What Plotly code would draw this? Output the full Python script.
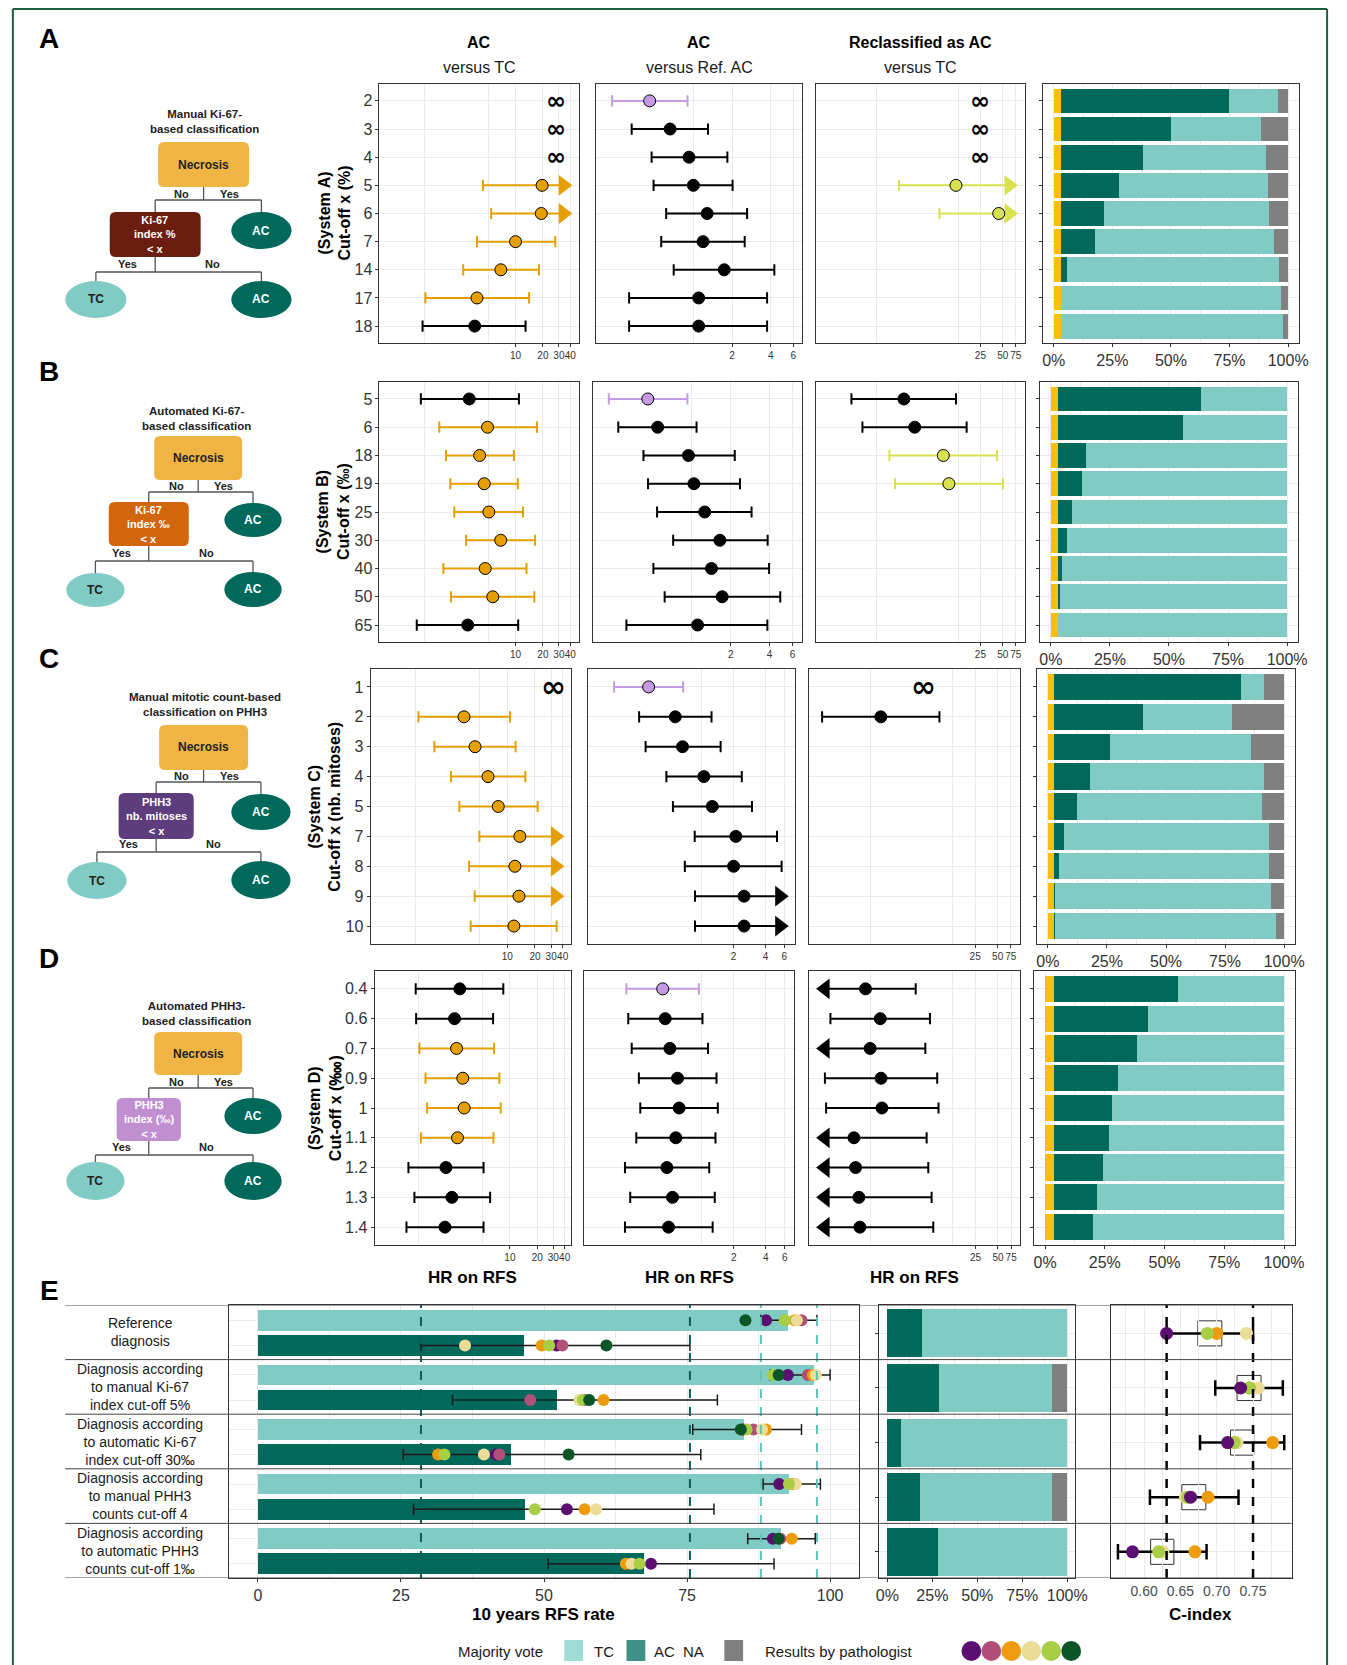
import math
import plotly.graph_objects as go

W, H = 1347, 1665
INF = float("inf")
NA = None

# ====================== DATA ======================
# Panel A - System A, manual Ki-67 (%)
cutoffs_A = ["2", "3", "4", "5", "6", "7", "14", "17", "18"]
hr_A_vs_tc = [INF, INF, INF, 19.6, 19.2, 10.0, 6.9, 3.77, 3.56]
lo_A_vs_tc = [NA, NA, NA, 4.38, 5.4, 3.77, 2.66, 1.02, 0.95]
hi_A_vs_tc = [NA, NA, NA, INF, INF, 27.4, 18.1, 14.1, 12.9]
hr_A_vs_ref = [0.457, 0.659, 0.925, 1.0, 1.28, 1.19, 1.74, 1.10, 1.10]
lo_A_vs_ref = [0.233, 0.331, 0.473, 0.49, 0.614, 0.562, 0.703, 0.316, 0.316]
hi_A_vs_ref = [0.90, 1.30, 1.84, 2.02, 2.62, 2.51, 4.27, 3.75, 3.75]
hr_A_recl = [INF, INF, INF, 11.7, 44.2, NA, NA, NA, NA]
lo_A_recl = [NA, NA, NA, 1.99, 7.0, NA, NA, NA, NA]
hi_A_recl = [NA, NA, NA, INF, INF, NA, NA, NA, NA]
nec_A = [3.0, 3.0, 3.0, 3.0, 3.0, 3.0, 3.0, 3.0, 3.0]
ac_A = [71.8, 47.0, 35.0, 24.9, 18.5, 14.5, 2.8, 0.0, 0.0]
tc_A = [21.0, 38.5, 52.6, 63.4, 70.2, 76.6, 90.3, 93.9, 94.7]
na_A = [4.2, 11.5, 9.4, 8.7, 8.3, 5.9, 3.9, 3.1, 2.3]

# Panel B - System B, automated Ki-67 (permille)
cutoffs_B = ["5", "6", "18", "19", "25", "30", "40", "50", "65"]
hr_B_vs_tc = [3.10, 4.92, 4.03, 4.53, 5.09, 6.87, 4.64, 5.62, 2.98]
lo_B_vs_tc = [0.91, 1.45, 1.72, 1.92, 2.12, 2.86, 1.61, 1.95, 0.82]
hi_B_vs_tc = [10.9, 17.2, 9.6, 10.6, 12.1, 16.4, 13.2, 16.1, 10.7]
hr_B_vs_ref = [0.458, 0.546, 0.944, 1.04, 1.26, 1.65, 1.42, 1.72, 1.11]
lo_B_vs_ref = [0.229, 0.271, 0.424, 0.46, 0.54, 0.719, 0.506, 0.618, 0.313]
hi_B_vs_ref = [0.927, 1.09, 2.15, 2.36, 2.90, 3.86, 3.96, 4.83, 3.84]
hr_B_recl = [2.32, 3.25, 7.9, 9.4, NA, NA, NA, NA, NA]
lo_B_recl = [0.455, 0.64, 1.48, 1.76, NA, NA, NA, NA, NA]
hi_B_recl = [11.7, 16.3, 41.9, 50.5, NA, NA, NA, NA, NA]
nec_B = [3.1, 3.1, 3.1, 3.1, 3.1, 3.1, 3.1, 3.1, 3.1]
ac_B = [60.5, 52.9, 11.9, 10.0, 6.0, 3.6, 1.6, 0.8, 0.0]
tc_B = [36.4, 44.0, 85.0, 86.9, 90.9, 93.3, 95.3, 96.1, 96.9]
na_B = [0, 0, 0, 0, 0, 0, 0, 0, 0]

# Panel C - System C, manual PHH3 mitoses
cutoffs_C = ["1", "2", "3", "4", "5", "7", "8", "9", "10"]
hr_C_vs_tc = [INF, 3.38, 4.46, 6.17, 7.98, 13.7, 12.1, 13.4, 11.8]
lo_C_vs_tc = [NA, 1.08, 1.61, 2.44, 3.01, 4.97, 3.84, 4.42, 4.0]
hi_C_vs_tc = [NA, 10.7, 12.3, 15.7, 21.4, INF, INF, INF, 34.4]
hr_C_vs_ref = [0.317, 0.565, 0.661, 1.05, 1.26, 2.10, 2.0, 2.51, 2.51]
lo_C_vs_ref = [0.150, 0.258, 0.297, 0.466, 0.537, 0.861, 0.695, 0.867, 0.867]
hi_C_vs_ref = [0.67, 1.24, 1.51, 2.39, 2.98, 5.13, 5.67, INF, INF]
hr_C_recl = [INF, 1.36, NA, NA, NA, NA, NA, NA, NA]
lo_C_recl = [NA, 0.222, NA, NA, NA, NA, NA, NA, NA]
hi_C_recl = [NA, 8.3, NA, NA, NA, NA, NA, NA, NA]
nec_C = [2.7, 2.7, 2.7, 2.7, 2.7, 2.7, 2.7, 2.7, 2.7]
ac_C = [79.0, 37.4, 23.6, 15.0, 9.6, 3.9, 1.8, 0.2, 0.2]
tc_C = [9.6, 38.0, 59.5, 73.8, 78.3, 87.0, 89.1, 91.5, 93.5]
na_C = [8.7, 21.9, 14.2, 8.5, 9.4, 6.4, 6.4, 5.6, 3.6]

# Panel D - System D, automated PHH3 (per ten thousand); lower CI 0 = unbounded
cutoffs_D = ["0.4", "0.6", "0.7", "0.9", "1", "1.1", "1.2", "1.3", "1.4"]
hr_D_vs_tc = [2.81, 2.46, 2.59, 3.03, 3.14, 2.65, 1.98, 2.30, 1.93]
lo_D_vs_tc = [0.92, 0.93, 1.01, 1.18, 1.23, 1.05, 0.765, 0.89, 0.728]
hi_D_vs_tc = [8.46, 6.53, 6.7, 7.66, 7.92, 6.59, 5.13, 6.06, 5.13]
hr_D_vs_ref = [0.433, 0.457, 0.506, 0.596, 0.617, 0.574, 0.474, 0.535, 0.491]
lo_D_vs_ref = [0.198, 0.206, 0.222, 0.259, 0.267, 0.245, 0.192, 0.215, 0.192]
hi_D_vs_ref = [0.944, 1.02, 1.15, 1.38, 1.42, 1.35, 1.18, 1.33, 1.27]
hr_D_recl = [0.85, 1.34, 0.98, 1.37, 1.41, 0.596, 0.627, 0.693, 0.715]
lo_D_recl = [0.0, 0.289, 0.0, 0.244, 0.253, 0.0, 0.0, 0.0, 0.0]
hi_D_recl = [3.98, 6.17, 5.35, 7.71, 8.03, 5.57, 5.86, 6.49, 6.83]
nec_D = [3.6, 3.6, 3.6, 3.6, 3.6, 3.6, 3.6, 3.6, 3.6]
ac_D = [51.9, 39.6, 35.0, 26.8, 24.3, 23.2, 20.7, 18.1, 16.5]
tc_D = [44.5, 56.8, 61.4, 69.6, 72.1, 73.2, 75.7, 78.3, 79.9]
na_D = [0, 0, 0, 0, 0, 0, 0, 0, 0]

# Panel E
diagnoses_E = [
    "Reference<br>diagnosis",
    "Diagnosis according<br>to manual Ki-67<br>index cut-off 5%",
    "Diagnosis according<br>to automatic Ki-67<br>index cut-off 30‰",
    "Diagnosis according<br>to manual PHH3<br>counts cut-off 4",
    "Diagnosis according<br>to automatic PHH3<br>counts cut-off 1‰",
]
rfs_tc = [92.7, 97.1, 85.0, 92.9, 91.4]
rfs_tc_lo = [87.9, 89.5, 76.0, 88.3, 85.6]
rfs_tc_hi = [97.7, 100.0, 95.0, 98.3, 97.4]
rfs_ac = [46.5, 52.3, 44.3, 46.6, 67.5]
rfs_ac_lo = [28.5, 34.0, 25.4, 27.2, 50.7]
rfs_ac_hi = [75.5, 80.3, 77.4, 79.7, 90.2]
pathologists = ["purple", "pink", "orange", "beige", "ltgreen", "dkgreen"]
rfs_tc_by_path = {
    "purple": [88.8, 92.6, 84.8, 91.1, 90.0],
    "pink": [95.0, 96.1, 86.6, NA, 91.3],
    "orange": [93.8, 97.0, 88.8, 93.5, 93.3],
    "beige": [94.2, 97.5, 88.1, 94.0, NA],
    "ltgreen": [92.1, 90.0, 85.4, 92.8, NA],
    "dkgreen": [85.2, 91.0, 84.4, NA, 91.0],
}
rfs_ac_by_path = {
    "purple": [52.2, 57.1, 41.6, 54.0, 68.7],
    "pink": [53.2, 47.6, 42.2, NA, NA],
    "orange": [49.6, 60.4, 31.5, 57.1, 64.3],
    "beige": [36.2, 56.2, 39.5, 59.1, 65.3],
    "ltgreen": [50.9, 56.8, 32.6, 48.4, 66.7],
    "dkgreen": [60.9, 57.9, 54.3, NA, NA],
}
mv_ac_E = [19.3, 28.6, 7.5, 18.2, 28.4]
mv_tc_E = [80.7, 62.8, 92.5, 73.4, 71.6]
mv_na_E = [0.0, 8.6, 0.0, 8.4, 0.0]
cidx_lo = [0.631, 0.698, 0.677, 0.608, 0.564]
cidx_hi = [0.750, 0.791, 0.793, 0.730, 0.686]
cidx_q1 = [0.674, 0.728, 0.719, 0.652, 0.609]
cidx_q3 = [0.707, 0.761, 0.751, 0.685, 0.641]
cidx_by_path = {
    "beige": [0.741, 0.757, 0.728, 0.657, 0.626],
    "orange": [0.700, 0.745, 0.777, 0.688, 0.670],
    "ltgreen": [0.687, 0.745, 0.724, 0.660, 0.620],
    "purple": [0.631, 0.733, 0.715, 0.664, 0.584],
}

# ====================== STYLE ======================
FONT = "Liberation Sans, Arial, Helvetica, sans-serif"
ORANGE = "#E69F00"
PURPLE = "#C49BE2"
YGREEN = "#D8E24E"
NEC_COL = "#FBBF0B"
AC_COL = "#00695C"
TC_COL = "#80CBC4"
NA_COL = "#808080"
GRID = "#EBEBEB"
BORDER = "#333333"
TXT = "#333333"
PATH_COLS = {"purple": "#5B0F70", "pink": "#B24F78", "orange": "#EC9C0C",
             "beige": "#EBDC98", "ltgreen": "#A8CE46", "dkgreen": "#0B5526"}

fig = go.Figure()
axes_layout = {}
shapes = []
annots = []
_ax = [0]


def X(px):
    return px / W


def Y(py):
    return 1 - py / H


def new_axes(xd, yd, xcfg, ycfg):
    _ax[0] += 1
    s = "" if _ax[0] == 1 else str(_ax[0])
    xcfg = dict(xcfg)
    ycfg = dict(ycfg)
    xcfg.update(domain=[X(xd[0]), X(xd[1])], anchor="y" + s)
    ycfg.update(domain=[Y(yd[1]), Y(yd[0])], anchor="x" + s)
    axes_layout["xaxis" + s] = xcfg
    axes_layout["yaxis" + s] = ycfg
    return "x" + s, "y" + s


def base_axis(**kw):
    d = dict(showline=True, mirror=True, linecolor=BORDER, linewidth=1, zeroline=False,
             showgrid=True, gridcolor=GRID, gridwidth=1, ticks="", showticklabels=False,
             fixedrange=True, tickangle=0)
    d.update(kw)
    return d


def text(x, y, s, size=14, bold=False, color="#1a1a1a", xanchor="center", yanchor="middle",
         angle=0, family=FONT, xref="paper", yref="paper"):
    if bold:
        s = "<b>" + s + "</b>"
    if xref == "paper":
        x = X(x)
    if yref == "paper":
        y = Y(y)
    annots.append(dict(x=x, y=y, xref=xref, yref=yref, text=s, showarrow=False,
                       font=dict(size=size, color=color, family=family),
                       xanchor=xanchor, yanchor=yanchor, textangle=angle))


FOREST_TICKS = [([10, 20, 30, 40], [1, 5]), ([2, 4, 6], [1]), ([25, 50, 75], [1, 12.5])]
HIGH_COLS = [ORANGE, ORANGE, YGREEN]


def forest_x(rng, col):
    major, minor = FOREST_TICKS[col]
    return base_axis(type="log", range=list(rng), tickmode="array", tickvals=major,
                     ticktext=[str(v) for v in major], showticklabels=True, ticks="outside",
                     ticklen=3, tickcolor=BORDER, tickfont=dict(size=10, color=TXT),
                     minor=dict(tickmode="array", tickvals=minor, showgrid=True,
                                gridcolor=GRID, ticks=""))


def rows_y(n, labels=None, ticks=False):
    d = base_axis(range=[n - 1 + 0.6, -0.6], tickmode="array", tickvals=list(range(n)))
    if labels:
        d.update(ticktext=labels, showticklabels=True, ticks="outside", ticklen=3,
                 tickcolor=BORDER, tickfont=dict(size=16, color=TXT))
    elif ticks:
        d.update(ticks="outside", ticklen=3, tickcolor=BORDER)
    return d


def draw_forest(xr, yr, hr, lo, hi, rng, width_px, high_col, inf_at, row_px):
    off = 16 * (rng[1] - rng[0]) / width_px
    groups = {}
    inf_rows = []
    for i, h in enumerate(hr):
        if h is None:
            continue
        if h == INF:
            inf_rows.append(i)
            continue
        l, u = lo[i], hi[i]
        if l > 1:
            col = high_col
        elif u < 1:
            col = PURPLE
        else:
            col = "black"
        g = groups.setdefault(col, dict(lx=[], ly=[], cx=[], cy=[], rx=[], ry=[], qx=[], qy=[], px=[], py=[]))
        if l <= 0 or math.log10(l) < rng[0]:
            L = 10 ** (rng[0] + off)
            g["qx"].append(L); g["qy"].append(i)
        else:
            L = l
            g["cx"].append(l); g["cy"].append(i)
        if u == INF or math.log10(u) > rng[1]:
            R = 10 ** (rng[1] - off)
            g["rx"].append(R); g["ry"].append(i)
        else:
            R = u
            g["cx"].append(u); g["cy"].append(i)
        g["lx"] += [L, R, None]
        g["ly"] += [i, i, None]
        g["px"].append(h); g["py"].append(i)
    # infinite hazard ratios are written as an infinity sign
    stacked = any((i + 1) in inf_rows for i in inf_rows)
    inf_size = min(30, row_px / 1.17) if stacked else 30
    for i in inf_rows:
        text(math.log10(inf_at), i, "∞", size=inf_size, bold=True, family="DejaVu Sans",
             color="black", xref=xr, yref=yr)
    common = dict(xaxis=xr, yaxis=yr, hoverinfo="skip", showlegend=False)
    for col, g in groups.items():
        fig.add_trace(go.Scatter(x=g["lx"], y=g["ly"], mode="lines",
                                 line=dict(color=col, width=2), **common))
        fig.add_trace(go.Scatter(x=g["cx"], y=g["cy"], mode="markers",
                                 marker=dict(symbol="line-ns", size=8,
                                             line=dict(color=col, width=2)), **common))
        if g["rx"]:
            fig.add_trace(go.Scatter(x=g["rx"], y=g["ry"], mode="markers",
                                     marker=dict(symbol="triangle-right", size=18, color=col,
                                                 line=dict(width=0)), **common))
        if g["qx"]:
            fig.add_trace(go.Scatter(x=g["qx"], y=g["qy"], mode="markers",
                                     marker=dict(symbol="triangle-left", size=18, color=col,
                                                 line=dict(width=0)), **common))
    for col, g in groups.items():
        fig.add_trace(go.Scatter(x=g["px"], y=g["py"], mode="markers",
                                 marker=dict(symbol="circle", size=12, color=col,
                                             line=dict(color="black", width=1)), **common))


def draw_stack(xr, yr, segs, ys, width):
    for vals, col in segs:
        fig.add_trace(go.Bar(x=vals, y=ys, orientation="h", width=width,
                             marker=dict(color=col, line=dict(width=0)),
                             xaxis=xr, yaxis=yr, hoverinfo="skip", showlegend=False))


# ====================== PANELS A-D ======================
panels = [
    dict(letter="A", letter_y=39, cut=cutoffs_A, ytitle="(System A)<br>Cut-off x (%)", ytx=335,
         yd=(84, 343), cols=[(380, 582), (599, 808), (822, 1033), (1051, 1311)],
         rng=[(-0.496, 1.699), (-0.759, 0.849), (-0.817, 1.996)],
         forest=[(hr_A_vs_tc, lo_A_vs_tc, hi_A_vs_tc), (hr_A_vs_ref, lo_A_vs_ref, hi_A_vs_ref),
                 (hr_A_recl, lo_A_recl, hi_A_recl)],
         inf_at=[28, None, 25], stack=(nec_A, ac_A, tc_A, na_A)),
    dict(letter="B", letter_y=371, cut=cutoffs_B, ytitle="(System B)<br>Cut-off x (‰)", ytx=333,
         yd=(382, 642), cols=[(380, 582), (596, 808), (822, 1033), (1048, 1310)],
         rng=[(-0.496, 1.699), (-0.763, 0.855), (-0.817, 1.996)],
         forest=[(hr_B_vs_tc, lo_B_vs_tc, hi_B_vs_tc), (hr_B_vs_ref, lo_B_vs_ref, hi_B_vs_ref),
                 (hr_B_recl, lo_B_recl, hi_B_recl)],
         inf_at=[None, None, None], stack=(nec_B, ac_B, tc_B, na_B)),
    dict(letter="C", letter_y=658, cut=cutoffs_C, ytitle="(System C)<br>Cut-off x (nb. mitoses)", ytx=324,
         yd=(669, 944), cols=[(371, 574), (591, 801), (815, 1028), (1045, 1307)],
         rng=[(-0.487, 1.695), (-1.07, 0.884), (-0.825, 1.996)],
         forest=[(hr_C_vs_tc, lo_C_vs_tc, hi_C_vs_tc), (hr_C_vs_ref, lo_C_vs_ref, hi_C_vs_ref),
                 (hr_C_recl, lo_C_recl, hi_C_recl)],
         inf_at=[32, None, 5.0], stack=(nec_C, ac_C, tc_C, na_C)),
    dict(letter="D", letter_y=958, cut=cutoffs_D, ytitle="(System D)<br>Cut-off x (‱)", ytx=325,
         yd=(971, 1245), cols=[(375, 574), (587, 800), (815, 1028), (1042, 1307)],
         rng=[(-0.489, 1.674), (-1.10, 0.870), (-0.821, 1.99)],
         forest=[(hr_D_vs_tc, lo_D_vs_tc, hi_D_vs_tc), (hr_D_vs_ref, lo_D_vs_ref, hi_D_vs_ref),
                 (hr_D_recl, lo_D_recl, hi_D_recl)],
         inf_at=[None, None, None], stack=(nec_D, ac_D, tc_D, na_D)),
]

HR_REF = 1.0
for k, p in enumerate(panels):
    n = len(p["cut"])
    row_px = (p["yd"][1] - p["yd"][0]) / (n - 1 + 1.2)
    text(46, p["letter_y"], p["letter"], size=28, bold=True, color="black")
    yc = (p["yd"][0] + p["yd"][1]) / 2
    text(p["ytx"], yc, p["ytitle"], size=16, bold=True, angle=-90, color="black")
    for c in range(3):
        xr, yr = new_axes(p["cols"][c], p["yd"], forest_x(p["rng"][c], c),
                          rows_y(n, p["cut"] if c == 0 else None))
        hr, lo, hi = p["forest"][c]
        draw_forest(xr, yr, hr, lo, hi, p["rng"][c], p["cols"][c][1] - p["cols"][c][0],
                    HIGH_COLS[c], p["inf_at"][c], row_px)
        shapes.append(dict(type="line", xref=xr, yref=yr + " domain", x0=math.log10(HR_REF),
                           x1=math.log10(HR_REF), y0=0, y1=1,
                           line=dict(color="#FF0000", width=2, dash="dash"), layer="above"))
    sx = base_axis(range=[-4.8, 104.8], tickmode="array", tickvals=[0, 25, 50, 75, 100],
                   ticktext=["0%", "25%", "50%", "75%", "100%"], showticklabels=True,
                   ticks="outside", ticklen=3, tickcolor=BORDER, tickfont=dict(size=16, color=TXT),
                   minor=dict(tickmode="array", tickvals=[12.5, 37.5, 62.5, 87.5], showgrid=True,
                              gridcolor=GRID, ticks=""))
    xr, yr = new_axes(p["cols"][3], p["yd"], sx, rows_y(n, None, ticks=True))
    nec, ac, tc, na = p["stack"]
    draw_stack(xr, yr, [(nec, NEC_COL), (ac, AC_COL), (tc, TC_COL), (na, NA_COL)],
               list(range(n)), 0.88)

# column headers
col_heads = [("AC", "versus TC"), ("AC", "versus Ref. AC"), ("Reclassified as AC", "versus TC")]
for c, (t1, t2) in enumerate(col_heads):
    cx = (panels[0]["cols"][c][0] + panels[0]["cols"][c][1]) / 2
    text(cx, 43, t1, size=16, bold=True, color="black")
    text(cx, 68, t2, size=16, color="#1a1a1a")
    cxd = (panels[3]["cols"][c][0] + panels[3]["cols"][c][1]) / 2
    text(cxd, 1277, "HR on RFS", size=17, bold=True, color="black")

# ====================== FLOWCHARTS ======================
flows = [
    dict(title="Manual Ki-67-<br>based classification", tx=203, ty=122, N=(156, 142, 248, 187),
         D=(107, 212, 199, 257), dcol="#6B1E10", dtext="Ki-67<br>index %<br>< x",
         AC1=(230, 212, 291, 249), TC=(62, 281, 124, 318), AC2=(230, 281, 291, 318), y1=200, y2=272),
    dict(title="Automated Ki-67-<br>based classification", tx=195, ty=418, N=(152, 436, 241, 480),
         D=(106, 502, 187, 546), dcol="#D2660C", dtext="Ki-67<br>index ‰<br>< x",
         AC1=(223, 503, 281, 537), TC=(63, 573, 122, 607), AC2=(223, 572, 281, 607), y1=492, y2=561),
    dict(title="Manual mitotic count-based<br>classification on PHH3", tx=203, ty=704,
         N=(157, 725, 247, 770), D=(116, 793, 192, 839), dcol="#5E3D7C",
         dtext="PHH3<br>nb. mitoses<br>< x", AC1=(230, 794, 290, 830), TC=(64, 862, 124, 899),
         AC2=(230, 861, 290, 899), y1=782, y2=852),
    dict(title="Automated PHH3-<br>based classification", tx=195, ty=1013, N=(152, 1032, 241, 1075),
         D=(114, 1098, 179, 1141), dcol="#BF8FD2", dtext="PHH3<br>index (‰)<br>< x",
         AC1=(223, 1098, 281, 1134), TC=(63, 1162, 122, 1200), AC2=(223, 1162, 281, 1200),
         y1=1088, y2=1155),
]


def rrect(b, r, fill):
    x0, y0, x1, y1 = b
    pts = (f"M {X(x0 + r)},{Y(y0)} L {X(x1 - r)},{Y(y0)} Q {X(x1)},{Y(y0)} {X(x1)},{Y(y0 + r)} "
           f"L {X(x1)},{Y(y1 - r)} Q {X(x1)},{Y(y1)} {X(x1 - r)},{Y(y1)} "
           f"L {X(x0 + r)},{Y(y1)} Q {X(x0)},{Y(y1)} {X(x0)},{Y(y1 - r)} "
           f"L {X(x0)},{Y(y0 + r)} Q {X(x0)},{Y(y0)} {X(x0 + r)},{Y(y0)} Z")
    shapes.append(dict(type="path", xref="paper", yref="paper", path=pts, fillcolor=fill,
                       line=dict(width=0)))


def ell(b, fill):
    x0, y0, x1, y1 = b
    shapes.append(dict(type="circle", xref="paper", yref="paper", x0=X(x0), x1=X(x1),
                       y0=Y(y1), y1=Y(y0), fillcolor=fill, line=dict(width=0)))


def seg(x0, y0, x1, y1):
    shapes.append(dict(type="line", xref="paper", yref="paper", x0=X(x0), x1=X(x1),
                       y0=Y(y0), y1=Y(y1), line=dict(color="#555555", width=1.3)))


def cxy(b):
    return (b[0] + b[2]) / 2, (b[1] + b[3]) / 2


for f in flows:
    text(f["tx"], f["ty"], f["title"], size=11.5, bold=True, color="#222222")
    ncx, ncy = cxy(f["N"])
    dcx, dcy = cxy(f["D"])
    a1x, a1y = cxy(f["AC1"])
    tcx, tcy = cxy(f["TC"])
    a2x, a2y = cxy(f["AC2"])
    seg(ncx, f["N"][3], ncx, f["y1"])
    seg(dcx, f["y1"], a1x, f["y1"])
    seg(dcx, f["y1"], dcx, f["D"][1])
    seg(a1x, f["y1"], a1x, f["AC1"][1])
    seg(dcx, f["D"][3], dcx, f["y2"])
    seg(tcx, f["y2"], a2x, f["y2"])
    seg(tcx, f["y2"], tcx, f["TC"][1])
    seg(a2x, f["y2"], a2x, f["AC2"][1])
    rrect(f["N"], 6, "#F0B445")
    rrect(f["D"], 6, f["dcol"])
    ell(f["AC1"], AC_COL)
    ell(f["TC"], TC_COL)
    ell(f["AC2"], AC_COL)
    text(ncx, ncy, "Necrosis", size=12, bold=True, color="#222222")
    text(dcx, dcy, f["dtext"], size=11, bold=True, color="white")
    text(a1x, a1y, "AC", size=12, bold=True, color="white")
    text(tcx, tcy, "TC", size=12, bold=True, color="#222222")
    text(a2x, a2y, "AC", size=12, bold=True, color="white")
    text(ncx - 22, f["y1"] - 6, "No", size=11, bold=True, color="#222222")
    text(ncx + 26, f["y1"] - 6, "Yes", size=11, bold=True, color="#222222")
    text(dcx - 28, f["y2"] - 8, "Yes", size=11, bold=True, color="#222222")
    text(dcx + 58, f["y2"] - 8, "No", size=11, bold=True, color="#222222")

# ====================== PANEL E ======================
text(46, 1290, "E", size=28, bold=True, color="black")
nE = len(diagnoses_E)
E_YD = (1305, 1578)
y_tc = [r + 0.28 for r in range(nE)]
y_ac = [r + 0.74 for r in range(nE)]
y_mid = [r + 0.52 for r in range(nE)]

ex = base_axis(range=[-5, 105], tickmode="array", tickvals=[0, 25, 50, 75, 100],
               ticktext=["0", "25", "50", "75", "100"], showticklabels=True, ticks="outside",
               ticklen=3, tickcolor=BORDER, tickfont=dict(size=16, color=TXT),
               minor=dict(tickmode="array", tickvals=[12.5, 37.5, 62.5, 87.5], showgrid=True,
                          gridcolor=GRID, ticks=""))
ey = base_axis(range=[nE, 0], tickmode="array", tickvals=y_tc + y_ac)
xe, ye = new_axes((228, 865), E_YD, ex, ey)
common_e = dict(xaxis=xe, yaxis=ye, hoverinfo="skip", showlegend=False)
fig.add_trace(go.Bar(x=rfs_tc, y=y_tc, orientation="h", width=0.38,
                     marker=dict(color=TC_COL, line=dict(width=0)), **common_e))
fig.add_trace(go.Bar(x=rfs_ac, y=y_ac, orientation="h", width=0.38,
                     marker=dict(color=AC_COL, line=dict(width=0)), **common_e))
lx, ly, cx_, cy_ = [], [], [], []
for r in range(nE):
    lx += [rfs_tc_lo[r], rfs_tc_hi[r], None, rfs_ac_lo[r], rfs_ac_hi[r], None]
    ly += [y_tc[r], y_tc[r], None, y_ac[r], y_ac[r], None]
    cx_ += [rfs_tc_lo[r], rfs_tc_hi[r], rfs_ac_lo[r], rfs_ac_hi[r]]
    cy_ += [y_tc[r], y_tc[r], y_ac[r], y_ac[r]]
fig.add_trace(go.Scatter(x=lx, y=ly, mode="lines", line=dict(color="#1a1a1a", width=1.5), **common_e))
fig.add_trace(go.Scatter(x=cx_, y=cy_, mode="markers",
                         marker=dict(symbol="line-ns", size=8, line=dict(color="#1a1a1a", width=1.5)),
                         **common_e))
for pth in pathologists:
    fig.add_trace(go.Scatter(x=rfs_tc_by_path[pth] + rfs_ac_by_path[pth], y=y_tc + y_ac,
                             mode="markers", marker=dict(size=12, color=PATH_COLS[pth],
                                                         line=dict(width=0)), **common_e))
for v, col in [(rfs_ac_lo[0], "#0D5F55"), (rfs_ac_hi[0], "#0D5F55"),
               (rfs_tc_lo[0], "#5EC3B8"), (rfs_tc_hi[0], "#5EC3B8")]:
    shapes.append(dict(type="line", xref=xe, yref=ye + " domain", x0=v, x1=v, y0=0, y1=1,
                       line=dict(color=col, width=2, dash="dash"), layer="above"))

# majority vote stacked
sx = base_axis(range=[-4.4, 104.4], tickmode="array", tickvals=[0, 25, 50, 75, 100],
               ticktext=["0%", "25%", "50%", "75%", "100%"], showticklabels=True,
               ticks="outside", ticklen=3, tickcolor=BORDER, tickfont=dict(size=16, color=TXT),
               minor=dict(tickmode="array", tickvals=[12.5, 37.5, 62.5, 87.5], showgrid=True,
                          gridcolor=GRID, ticks=""))
sy = base_axis(range=[nE, 0], tickmode="array", tickvals=y_mid, ticks="outside", ticklen=3,
               tickcolor=BORDER)
xs, ys = new_axes((886, 1084), E_YD, sx, sy)
draw_stack(xs, ys, [(mv_ac_E, AC_COL), (mv_tc_E, TC_COL), (mv_na_E, NA_COL)], y_mid, 0.88)

# C-index
cxa = base_axis(range=[0.554, 0.803], tickmode="array", tickvals=[0.60, 0.65, 0.70, 0.75],
                ticktext=["0.60", "0.65", "0.70", "0.75"], showticklabels=True, ticks="",
                tickfont=dict(size=14, color="#4D4D4D"),
                minor=dict(tickmode="array", tickvals=[0.575, 0.625, 0.675, 0.725, 0.775],
                           showgrid=True, gridcolor=GRID, ticks=""))
cya = base_axis(range=[nE, 0], tickmode="array", tickvals=y_mid)
xc, yc_ = new_axes((1120, 1303), E_YD, cxa, cya)
common_c = dict(xaxis=xc, yaxis=yc_, hoverinfo="skip", showlegend=False)
for r in range(nE):
    shapes.append(dict(type="rect", xref=xc, yref=yc_, x0=cidx_q1[r], x1=cidx_q3[r],
                       y0=y_mid[r] - 0.23, y1=y_mid[r] + 0.23, line=dict(color="#333333", width=1),
                       fillcolor="rgba(0,0,0,0)", layer="below"))
lx, ly, cx_, cy_ = [], [], [], []
for r in range(nE):
    lx += [cidx_lo[r], cidx_hi[r], None]
    ly += [y_mid[r], y_mid[r], None]
    cx_ += [cidx_lo[r], cidx_hi[r]]
    cy_ += [y_mid[r], y_mid[r]]
fig.add_trace(go.Scatter(x=lx, y=ly, mode="lines", line=dict(color="black", width=2.5), **common_c))
fig.add_trace(go.Scatter(x=cx_, y=cy_, mode="markers",
                         marker=dict(symbol="line-ns", size=11, line=dict(color="black", width=2.5)),
                         **common_c))
for pth in ["beige", "orange", "ltgreen", "purple"]:
    fig.add_trace(go.Scatter(x=cidx_by_path[pth], y=y_mid, mode="markers",
                             marker=dict(size=13, color=PATH_COLS[pth], line=dict(width=0)),
                             **common_c))
for v in [cidx_lo[0], cidx_hi[0]]:
    shapes.append(dict(type="line", xref=xc, yref=yc_ + " domain", x0=v, x1=v, y0=0, y1=1,
                       line=dict(color="black", width=2.5, dash="dash"), layer="above"))

# row separators and strip labels
for r in range(nE + 1):
    shapes.append(dict(type="line", xref="paper", yref=ye, x0=X(62), x1=X(1303), y0=r, y1=r,
                       line=dict(color="#444444", width=1)))
for r, lab in enumerate(diagnoses_E):
    text(138, r + 0.5, lab, size=14, color="#1a1a1a", yref=ye)

text(546, 1614, "10 years RFS rate", size=17, bold=True, color="black")
text(1211, 1614, "C-index", size=17, bold=True, color="black")

# ====================== LEGEND ======================
LY = 1651
text(457, LY, "Majority vote", size=15, color="#1a1a1a", xanchor="left")
for (x0, x1), col in [((567, 586), "#9FDCD6"), ((630, 649), "#3F9188"), ((729, 748), NA_COL)]:
    shapes.append(dict(type="rect", xref="paper", yref="paper", x0=X(x0), x1=X(x1),
                       y0=Y(1661), y1=Y(1640), fillcolor=col, line=dict(width=0)))
text(595, LY, "TC", size=15, xanchor="left")
text(656, LY, "AC", size=15, xanchor="left")
text(685, LY, "NA", size=15, xanchor="left")
text(768, LY, "Results by pathologist", size=15, xanchor="left")
for k, pth in enumerate(pathologists):
    cxp = 979 + k * 20.2
    shapes.append(dict(type="circle", xref="paper", yref="paper", x0=X(cxp - 10), x1=X(cxp + 10),
                       y0=Y(LY + 10), y1=Y(LY - 10), fillcolor=PATH_COLS[pth], line=dict(width=0)))

# outer frame (left, top, right edges)
for (x0, y0, x1, y1) in [(9, 9, 9, 1665), (9, 9, 1339, 9), (1339, 9, 1339, 1665)]:
    shapes.append(dict(type="line", xref="paper", yref="paper", x0=X(x0), x1=X(x1), y0=Y(y0),
                       y1=Y(y1), line=dict(color="#1F5F3F", width=2)))

fig.update_layout(width=W, height=H, margin=dict(l=0, r=0, t=0, b=0), paper_bgcolor="white",
                  plot_bgcolor="white", showlegend=False, barmode="stack",
                  font=dict(family=FONT, color="#1a1a1a"), shapes=shapes, annotations=annots,
                  **axes_layout)

fig.write_html("out.html", config={"displayModeBar": False},
               post_script="document.body.style.margin='0px';")
